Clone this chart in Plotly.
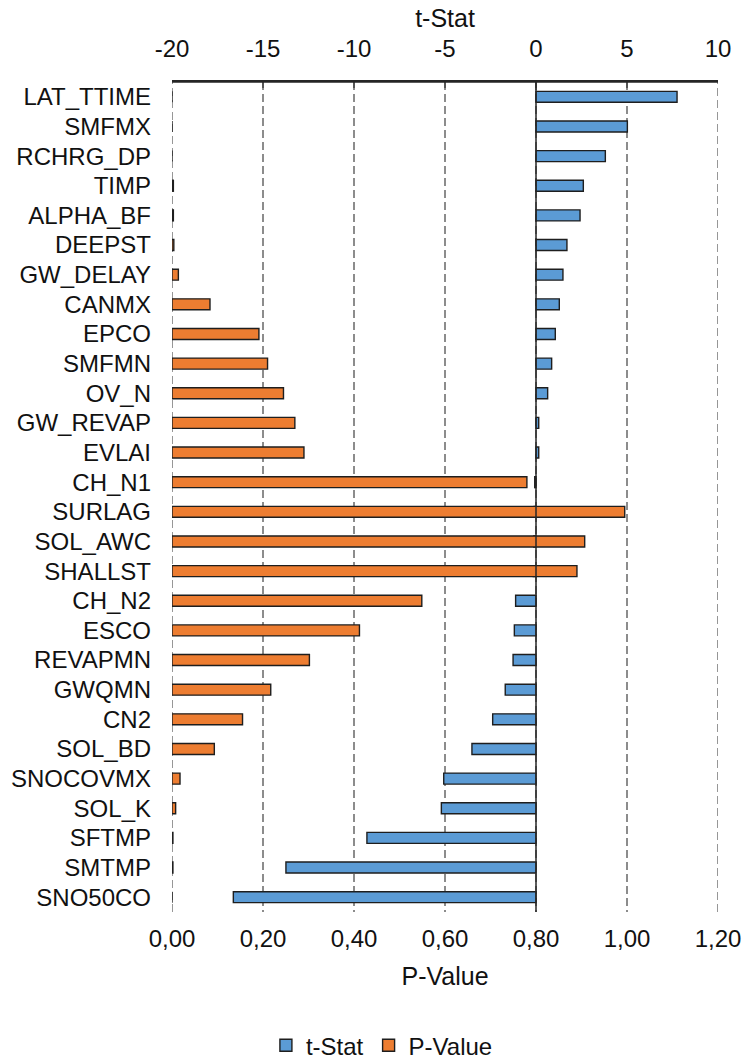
import plotly.graph_objects as go

# Parameters, top to bottom
params = ["LAT_TTIME", "SMFMX", "RCHRG_DP", "TIMP", "ALPHA_BF", "DEEPST",
          "GW_DELAY", "CANMX", "EPCO", "SMFMN", "OV_N", "GW_REVAP", "EVLAI",
          "CH_N1", "SURLAG", "SOL_AWC", "SHALLST", "CH_N2", "ESCO", "REVAPMN",
          "GWQMN", "CN2", "SOL_BD", "SNOCOVMX", "SOL_K", "SFTMP", "SMTMP",
          "SNO50CO"]

t_stat = [7.75, 5.02, 3.81, 2.60, 2.42, 1.70, 1.48, 1.28, 1.06, 0.86, 0.64,
          0.15, 0.15, -0.07, -0.10, -0.12, -0.15, -1.12, -1.19, -1.26, -1.69,
          -2.38, -3.52, -5.07, -5.20, -9.29, -13.74, -16.63]

p_value = [0.0, 0.0, 0.0, 0.003, 0.003, 0.004, 0.014, 0.0835, 0.191, 0.210,
           0.245, 0.270, 0.290, 0.780, 0.995, 0.907, 0.890, 0.549, 0.412,
           0.302, 0.217, 0.155, 0.093, 0.0176, 0.008, 0.002, 0.002, 0.0]

t_ticks = [-20, -15, -10, -5, 0, 5, 10]
t_tick_text = ["-20", "-15", "-10", "-5", "0", "5", "10"]
p_ticks = [0.0, 0.2, 0.4, 0.6, 0.8, 1.0, 1.2]
p_tick_text = ["0,00", "0,20", "0,40", "0,60", "0,80", "1,00", "1,20"]

FONT = "Liberation Sans, Arial, sans-serif"
INK = "#111111"
OUTLINE = "#1e1e1e"
GRID = "#8c8c8c"
GRID_DASH = "8px,4px"
AXIS = "#262626"

fig = go.Figure()

fig.add_trace(go.Bar(
    y=params, x=t_stat, orientation="h", name="t-Stat",
    xaxis="x", yaxis="y", width=0.37,
    marker=dict(color="#5B9BD5", line=dict(color=OUTLINE, width=1.4)),
))
fig.add_trace(go.Bar(
    y=params, x=p_value, orientation="h", name="P-Value",
    xaxis="x2", yaxis="y", width=0.37,
    marker=dict(color="#ED7D31", line=dict(color=OUTLINE, width=1.4)),
))

# dashed gridlines on the plot edges (t = -20 and t = 10)
for edge in (t_ticks[0], t_ticks[-1]):
    fig.add_shape(type="line", xref="x", yref="paper", x0=edge, x1=edge,
                  y0=0, y1=1, layer="below",
                  line=dict(color=GRID, width=1.8, dash=GRID_DASH))

# t = 0 reference line drawn over the bars
fig.add_shape(type="line", xref="x", yref="paper", x0=0, x1=0, y0=0, y1=1,
              line=dict(color=AXIS, width=1.5), layer="above")

# top axis baseline
fig.add_shape(type="line", xref="paper", yref="paper", x0=0, x1=1, y0=1, y1=1,
              line=dict(color=AXIS, width=1.5), layer="above")

fig.update_layout(
    width=744, height=1059,
    margin=dict(l=172, r=26, t=82, b=147, autoexpand=False),
    paper_bgcolor="white", plot_bgcolor="white",
    font=dict(family=FONT, color=INK, size=24),
    barmode="overlay",
    showlegend=True,
    legend=dict(orientation="h", x=0.172, xanchor="left", y=-0.161,
                yanchor="middle", font=dict(size=24, color=INK),
                itemwidth=30, traceorder="normal", tracegroupgap=0),
    xaxis=dict(
        side="top", range=[-20, 10], tickvals=t_ticks, ticktext=t_tick_text,
        showgrid=True, gridcolor=GRID, gridwidth=1.8, griddash=GRID_DASH,
        zeroline=False, showline=True, linecolor=AXIS, linewidth=1.5,
        ticks="inside", ticklen=6, tickcolor="#555555", tickwidth=1.5,
        ticklabelstandoff=14, automargin=False,
        tickfont=dict(size=24, color=INK),
        title=dict(text="t-Stat", font=dict(size=25, color=INK), standoff=0),
    ),
    xaxis2=dict(
        overlaying="x", side="bottom", range=[0, 1.2], tickvals=p_ticks,
        ticktext=p_tick_text, showgrid=False, zeroline=False, showline=False,
        ticks="", ticklabelstandoff=10, automargin=False,
        tickfont=dict(size=24, color=INK),
        title=dict(text="P-Value", font=dict(size=25, color=INK), standoff=16),
    ),
    yaxis=dict(
        autorange="reversed", showgrid=False, zeroline=False, showline=False,
        ticks="", ticklabelstandoff=20, automargin=False,
        tickfont=dict(size=24, color=INK),
    ),
)

fig.write_html("out.html")
